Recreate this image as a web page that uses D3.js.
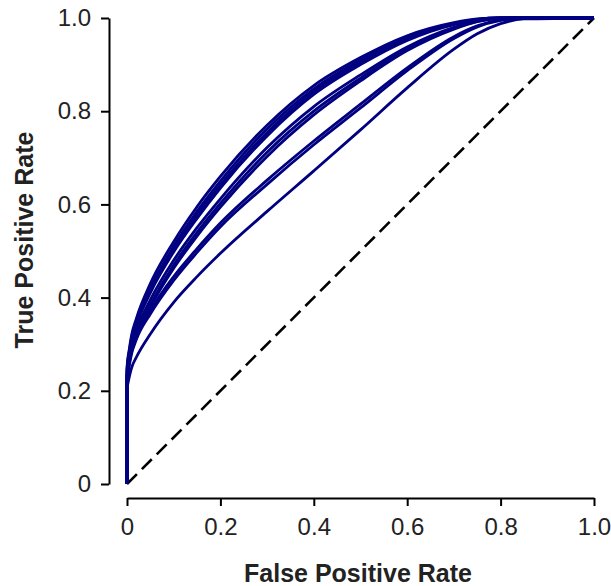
<!DOCTYPE html>
<html>
<head>
<meta charset="utf-8">
<script src="https://cdn.jsdelivr.net/npm/d3@7"></script>
<style>
  html, body { margin: 0; padding: 0; background: #fff; }
  svg { display: block; }
</style>
</head>
<body>
<svg id="chart" width="611" height="586"></svg>
<script>
// ---- Data ----
const fprGrid = [0, 0, 0.005, 0.01, 0.02, 0.05, 0.1, 0.15, 0.2, 0.3, 0.4, 0.5, 0.6, 0.7, 0.75, 0.8, 0.85, 1.0];

const tprA1 = [0, 0.25, 0.29, 0.32, 0.355, 0.43, 0.52, 0.595, 0.66, 0.77, 0.855, 0.915, 0.962, 0.99, 0.998, 1.0, 1.0, 1.0];
const tprA2 = [0, 0.245, 0.285, 0.315, 0.35, 0.42, 0.51, 0.585, 0.65, 0.762, 0.848, 0.91, 0.958, 0.988, 0.997, 1.0, 1.0, 1.0];
const tprA3 = [0, 0.24, 0.28, 0.31, 0.345, 0.415, 0.505, 0.578, 0.642, 0.754, 0.842, 0.905, 0.955, 0.987, 0.997, 1.0, 1.0, 1.0];
const tprA4 = [0, 0.235, 0.275, 0.305, 0.34, 0.41, 0.498, 0.57, 0.635, 0.747, 0.836, 0.9, 0.952, 0.986, 0.996, 1.0, 1.0, 1.0];
const tprB1 = [0, 0.23, 0.27, 0.3, 0.33, 0.395, 0.48, 0.55, 0.612, 0.722, 0.81, 0.878, 0.938, 0.98, 0.994, 1.0, 1.0, 1.0];
const tprB2 = [0, 0.225, 0.265, 0.295, 0.325, 0.385, 0.47, 0.54, 0.602, 0.712, 0.8, 0.871, 0.934, 0.978, 0.993, 0.999, 1.0, 1.0];
const tprB3 = [0, 0.22, 0.26, 0.29, 0.32, 0.38, 0.463, 0.532, 0.594, 0.703, 0.792, 0.865, 0.93, 0.976, 0.992, 0.999, 1.0, 1.0];
const tprC1 = [0, 0.225, 0.26, 0.285, 0.315, 0.372, 0.445, 0.505, 0.56, 0.652, 0.736, 0.815, 0.893, 0.96, 0.983, 0.996, 1.0, 1.0];
const tprC2 = [0, 0.22, 0.255, 0.28, 0.31, 0.365, 0.437, 0.497, 0.552, 0.643, 0.728, 0.807, 0.887, 0.956, 0.981, 0.995, 1.0, 1.0];
const tprD  = [0, 0.2, 0.23, 0.25, 0.272, 0.322, 0.39, 0.445, 0.495, 0.585, 0.672, 0.76, 0.85, 0.933, 0.966, 0.988, 0.998, 1.0];

const seriesList = [tprA1, tprA2, tprA3, tprA4, tprB1, tprB2, tprB3, tprC1, tprC2, tprD];
const diagonal = [[0, 0], [1, 1]];
const tickValues = [0, 0.2, 0.4, 0.6, 0.8, 1.0];
const tickLabels = ["0", "0.2", "0.4", "0.6", "0.8", "1.0"];
const xTitle = "False Positive Rate";
const yTitle = "True Positive Rate";

// ---- Drawing ----
const svg = d3.select("#chart");
const x = d3.scaleLinear().domain([0, 1]).range([127, 594]);
const y = d3.scaleLinear().domain([0, 1]).range([484, 18]);

const fontFam = "'Liberation Sans', Arial, Helvetica, sans-serif";

// diagonal
svg.append("path")
  .datum(diagonal)
  .attr("d", d3.line().x(d => x(d[0])).y(d => y(d[1])))
  .attr("fill", "none")
  .attr("stroke", "#000")
  .attr("stroke-width", 2.6)
  .attr("stroke-dasharray", "14,7");

// ROC curves
const line = d3.line()
  .x(d => x(d[0]))
  .y(d => y(d[1]))
  .curve(d3.curveMonotoneX);

svg.append("g").selectAll("path")
  .data(seriesList)
  .join("path")
  .attr("d", s => line(s.map((v, i) => [fprGrid[i], v])))
  .attr("fill", "none")
  .attr("stroke", "#000080")
  .attr("stroke-width", 2.8)
  .attr("stroke-linejoin", "round");

// axes
const xAxis = d3.axisBottom(x).tickValues(tickValues)
  .tickFormat((d, i) => tickLabels[i]).tickSize(8).tickSizeOuter(0).tickPadding(12);
const yAxis = d3.axisLeft(y).tickValues(tickValues)
  .tickFormat((d, i) => tickLabels[i]).tickSize(8).tickSizeOuter(0).tickPadding(10);

const gx = svg.append("g").attr("transform", "translate(0,498)").call(xAxis);
const gy = svg.append("g").attr("transform", "translate(109,0)").call(yAxis);

[gx, gy].forEach(g => {
  g.selectAll("path, line").attr("stroke", "#000").attr("stroke-width", 2);
  g.selectAll("text").attr("fill", "#222").style("font-family", fontFam).style("font-size", "24px");
});

// titles
svg.append("text")
  .attr("x", 358).attr("y", 582)
  .attr("text-anchor", "middle")
  .style("font-family", fontFam).style("font-size", "25px").style("font-weight", "bold")
  .attr("fill", "#222")
  .text(xTitle);

svg.append("text")
  .attr("transform", "translate(33,240) rotate(-90)")
  .attr("text-anchor", "middle")
  .style("font-family", fontFam).style("font-size", "25px").style("font-weight", "bold")
  .attr("fill", "#222")
  .text(yTitle);
</script>
</body>
</html>
